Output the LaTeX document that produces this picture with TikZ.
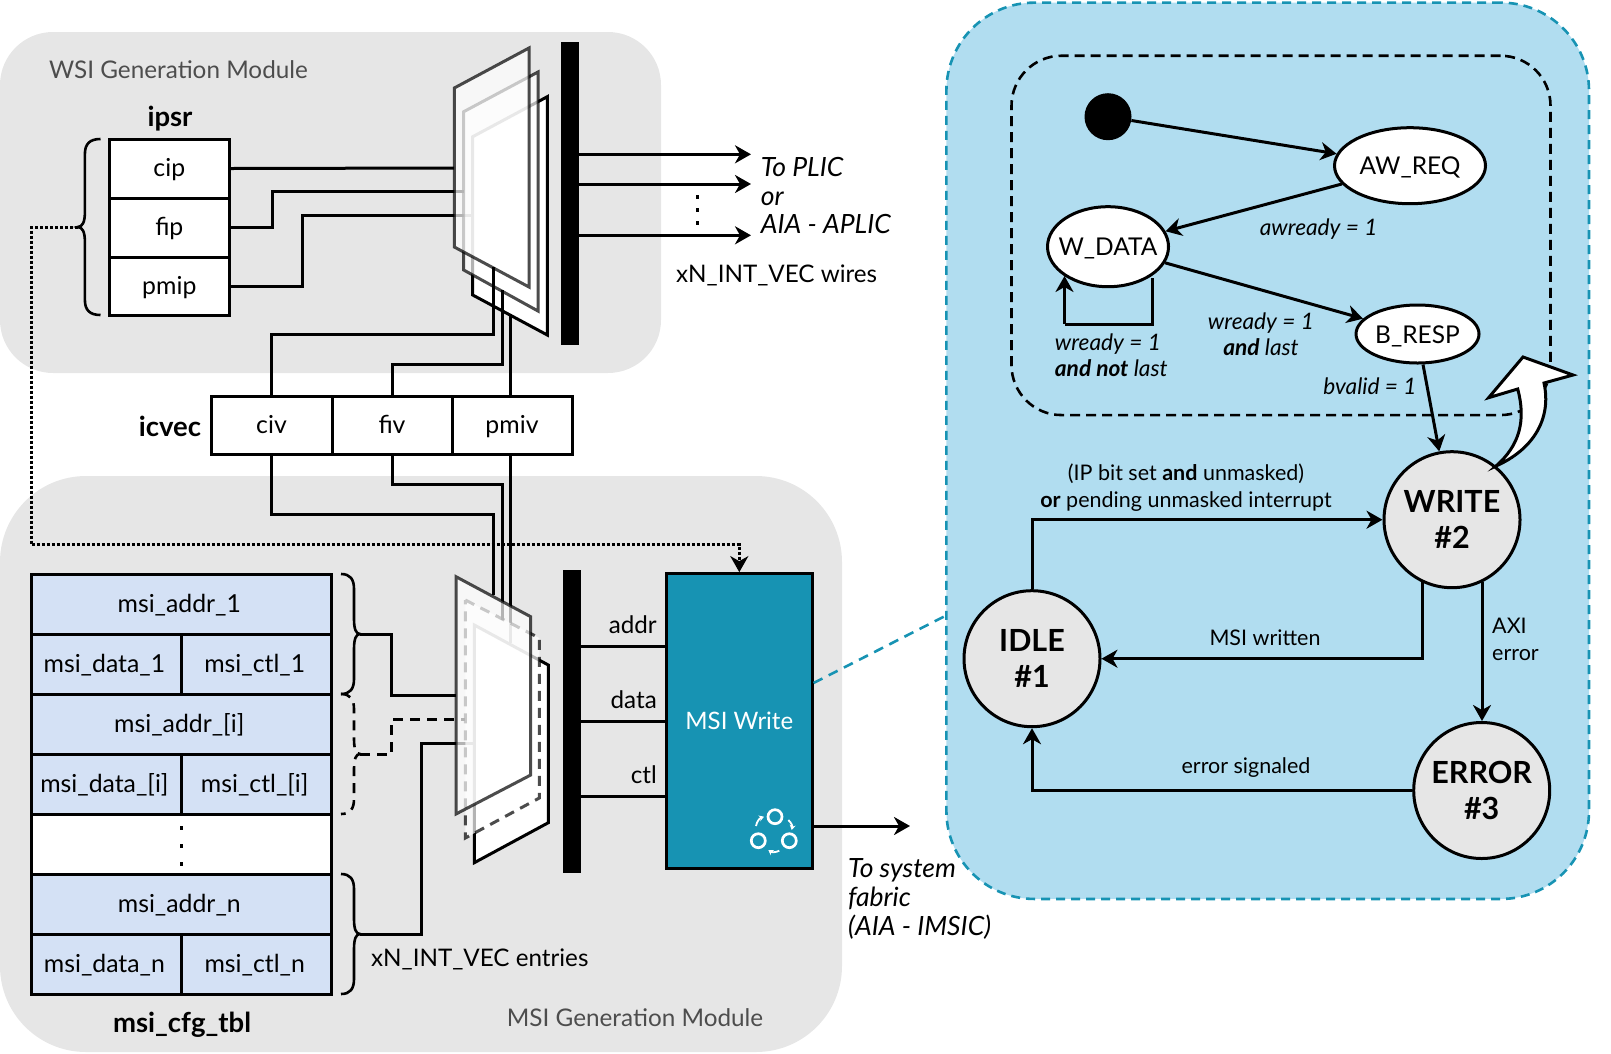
\documentclass[tikz,border=0pt]{standalone}
\usepackage{fontspec}
\setmainfont{Lato}
\usetikzlibrary{arrows.meta, shapes.geometric}
\definecolor{modulegray}{HTML}{E6E6E6}
\definecolor{paneblue}{HTML}{B1DDF0}
\definecolor{tealline}{HTML}{1793B3}
\definecolor{tableblue}{HTML}{D4E1F5}
\definecolor{titlegray}{HTML}{4D4D4D}
\tikzstyle{module} = [rectangle, fill=modulegray, inner sep=0pt]
\tikzstyle{cell} = [rectangle, draw=black, line width=3pt, fill=white, inner sep=0pt, text height=21pt, text depth=5pt, font=\fontsize{24.8}{28}\selectfont]
\tikzstyle{tablecell} = [cell, fill=tableblue, execute at begin node=\kern-4pt]
\tikzstyle{bar} = [rectangle, fill=black, inner sep=0pt, minimum width=18pt]
\tikzstyle{plane} = [draw=black, line width=3pt, fill=white, miter limit=10, opacity=0.7]
\tikzstyle{backplane} = [plane, opacity=1]
\tikzstyle{wire} = [line width=3pt, line join=miter]
\tikzstyle{arrow} = [wire, -{Stealth[length=16pt,width=18pt,inset=5pt]}]
\tikzstyle{curlyline} = [line width=2.6pt]
\tikzstyle{dotrow} = [line width=3.2pt]
\tikzstyle{state} = [ellipse, draw=black, line width=3pt, fill=white, inner sep=-15pt, font=\fontsize{24.5}{30}\selectfont]
\tikzstyle{smallstate} = [state, text height=18pt, text depth=0pt]
\tikzstyle{mainstate} = [state, fill=modulegray, minimum size=136pt, align=center, font=\fontsize{30.5}{36}\selectfont\bfseries]
\tikzstyle{textlabel} = [inner sep=0pt, font=\fontsize{24.2}{28}\selectfont]
\tikzstyle{boldlabel} = [textlabel, font=\fontsize{27.5}{32}\selectfont\bfseries]
\tikzstyle{title} = [textlabel, text=titlegray, font=\fontsize{24.3}{30}\selectfont]
\tikzstyle{slanted} = [textlabel, anchor=west, align=left, font=\fontsize{26.5}{28.7}\selectfont\itshape]
\tikzstyle{guard} = [textlabel, align=center, font=\fontsize{21.5}{27}\selectfont]
\tikzstyle{cond} = [guard, font=\fontsize{22.7}{26.5}\selectfont\itshape]
\tikzstyle{loopdot} = [circle, draw=white, line width=2.7pt, minimum size=14pt, inner sep=0pt]
\tikzstyle{looparrow} = [white, line width=1.8pt, -{Stealth[length=5pt,width=6pt]}]
\tikzset{curlybrace/.pic={
	\draw [curlyline] (0,-#1) .. controls (9,-#1) and (13,{-#1+5}) .. (13,{-#1+15}) -- (13,-15) .. controls (13,-5) and (15,0) .. (19,0) .. controls (15,0) and (13,5) .. (13,15) -- (13,{#1-15}) .. controls (13,{#1-5}) and (9,#1) .. (0,#1);
}}

\begin{document}
\begin{tikzpicture}[x=1pt,y=-1pt]
	\useasboundingbox (0,0) rectangle (1611,1053);

	% Modules
	\node (wsimodule) [module, minimum width=661pt, minimum height=341pt, rounded corners=53pt] at (330.5,202.5) {};
	\node (msimodule) [module, minimum width=842pt, minimum height=576pt, rounded corners=86pt] at (421,764) {};
	\node (fsmpanel) [rectangle, draw=tealline, fill=paneblue, line width=2.6pt, dash pattern=on 9pt off 6pt, inner sep=0pt, minimum width=642.6pt, minimum height=896.3pt, rounded corners=88pt] at (1267.7,450.8) {};
	\node (axiframe) [rectangle, draw=black, line width=2.6pt, dash pattern=on 10pt off 6pt, inner sep=0pt, minimum width=539pt, minimum height=359.3pt, rounded corners=50pt] at (1281,235.4) {};
	\node (wsititle) [title] at (178.5,70) {WSI Generation Module};
	\node (msititle) [title] at (635,1018) {MSI Generation Module};

	% Register nodes
	\node (ipsrlabel) [boldlabel] at (170,119) {ipsr};
	\node (cip) [cell, minimum width=120.6pt, minimum height=59pt] at (169.3,168.5) {cip};
	\node (fip) [cell, minimum width=120.6pt, minimum height=59pt] at (169.3,227.5) {fip};
	\node (pmip) [cell, minimum width=120.6pt, minimum height=58pt] at (169.3,286) {pmip};
	\node (icveclabel) [boldlabel] at (170,426) {icvec};
	\node (civ) [cell, minimum width=121pt, minimum height=58pt] at (271.5,425) {civ};
	\node (fiv) [cell, minimum width=120pt, minimum height=58pt] at (392,425) {fiv};
	\node (pmiv) [cell, minimum width=120pt, minimum height=58pt] at (512,425) {pmiv};

	% Table nodes
	\node (addrfirst) [tablecell, minimum width=300.6pt, minimum height=60pt] at (181.3,604) {msi\_addr\_1};
	\node (datafirst) [tablecell, minimum width=150.8pt, minimum height=60pt] at (106.4,664) {msi\_data\_1};
	\node (ctlfirst) [tablecell, minimum width=149.8pt, minimum height=60pt] at (256.7,664) {msi\_ctl\_1};
	\node (addrmid) [tablecell, minimum width=300.6pt, minimum height=60pt] at (181.3,724) {msi\_addr\_[i]};
	\node (datamid) [tablecell, minimum width=150.8pt, minimum height=60pt] at (106.4,784) {msi\_data\_[i]};
	\node (ctlmid) [tablecell, minimum width=149.8pt, minimum height=60pt] at (256.7,784) {msi\_ctl\_[i]};
	\node (tablegap) [cell, minimum width=300.6pt, minimum height=60pt] at (181.3,844) {};
	\node (addrlast) [tablecell, minimum width=300.6pt, minimum height=60pt] at (181.3,904) {msi\_addr\_n};
	\node (datalast) [tablecell, minimum width=150.8pt, minimum height=60pt] at (106.4,964) {msi\_data\_n};
	\node (ctllast) [tablecell, minimum width=149.8pt, minimum height=60pt] at (256.7,964) {msi\_ctl\_n};
	\node (tablelabel) [boldlabel] at (182,1025) {msi\_cfg\_tbl};

	% Bars and MSI block
	\node (wsibar) [bar, minimum height=303pt] at (570,193.5) {};
	\node (msibar) [bar, minimum height=303pt] at (571.7,721.3) {};
	\node (msiwrite) [rectangle, draw=black, line width=3pt, fill=tealline, text=white, inner sep=0pt, minimum width=145.5pt, minimum height=294.7pt, font=\fontsize{24}{30}\selectfont] at (739.3,721) {MSI Write};

	% Wire end points
	\coordinate (cipport) at (454,168);
	\coordinate (fipport) at (464,191.3);
	\coordinate (pmipport) at (473,215.5);
	\coordinate (civport) at (493.5,267);
	\coordinate (civturn) at (493.5,334);
	\coordinate (fivport) at (502.5,290);
	\coordinate (fivturn) at (502.5,364);
	\coordinate (pmivport) at (510.5,315);
	\coordinate (civlow) at (493.5,595);
	\coordinate (civlowturn) at (493.5,514);
	\coordinate (fivlow) at (502.5,620);
	\coordinate (fivlowturn) at (502.5,484.3);
	\coordinate (pmivlow) at (510.5,643);
	\coordinate (bracefirst) at (360,634);
	\coordinate (bracemid) at (360,754);
	\coordinate (bracelast) at (360,934);
	\coordinate (ipsrbrace) at (78,227);
	\coordinate (addrport) at (456,695);
	\coordinate (midport) at (465,719);
	\coordinate (lastport) at (474,743);
	\coordinate (dotturn) at (31.5,544.5);
	\coordinate (plicfirst) at (751,154.3);
	\coordinate (plicsecond) at (751,184);
	\coordinate (plicthird) at (751,235.3);
	\coordinate (addrwire) at (666,646);
	\coordinate (datawire) at (666,721);
	\coordinate (ctlwire) at (666,796);
	\coordinate (fabric) at (910,826);
	\coordinate (zoomfrom) at (812,683);
	\coordinate (zoomto) at (946,616);

	% Upper planes and their wires
	\draw [backplane] (472.7,136.7) -- (547.3,96.7) -- (547.3,335) -- (472.7,295) -- cycle;
	\draw [wire] (pmip.east) -- ++(71,0) |- (pmipport);
	\draw [wire] (pmiv.north -| pmivport) -- (pmivport);
	\draw [plane] (463.7,111.7) -- (538,72) -- (538,311) -- (463.7,270) -- cycle;
	\draw [wire] (fip.east) -- ++(41,0) |- (fipport);
	\draw [wire] (fiv.north) |- (fivturn) -- (fivport);
	\draw [plane] (454.3,88) -- (529,48) -- (529,287) -- (454.3,247) -- cycle;
	\draw [wire] (cip.east) -- (cipport);
	\draw [wire] (civ.north) |- (civturn) -- (civport);

	% Lower planes and their wires
	\draw [backplane] (474.3,625) -- (548.3,665) -- (548.3,822.7) -- (474.3,862.7) -- cycle;
	\draw [wire] (bracelast) -- ++(61.6,0) |- (lastport);
	\draw [wire] (pmiv.south -| pmivlow) -- (pmivlow);
	\draw [plane, dash pattern=on 10pt off 7pt] (465.3,600) -- (539.3,638) -- (539.3,798) -- (465.3,838) -- cycle;
	\draw [wire, dash pattern=on 10pt off 7pt] (bracemid) -- ++(31.6,0) |- (midport);
	\draw [wire] (fiv.south) |- (fivlowturn) -- (fivlow);
	\draw [plane] (456,576.7) -- (530.7,616.7) -- (530.7,775) -- (456,814) -- cycle;
	\draw [wire] (bracefirst) -- ++(31.6,0) |- (addrport);
	\draw [wire] (civ.south) |- (civlowturn) -- (civlow);

	% Braces
	\pic [xscale=-1.2] at (100.5,227) {curlybrace=88};
	\pic at (341,634) {curlybrace=60};
	\pic [dash pattern=on 10pt off 7pt] at (341,754) {curlybrace=60};
	\pic at (341,934) {curlybrace=60};

	% Arrows
	\draw [wire, dotted] (ipsrbrace) -| (dotturn);
	\draw [arrow, dotted] (dotturn) -| (msiwrite.north);
	\draw [arrow] (wsibar.east |- plicfirst) -- (plicfirst);
	\draw [arrow] (wsibar.east |- plicsecond) -- (plicsecond);
	\draw [arrow] (wsibar.east |- plicthird) -- (plicthird);
	\draw [wire] (msibar.east |- addrwire) -- (addrwire);
	\draw [wire] (msibar.east |- datawire) -- (datawire);
	\draw [wire] (msibar.east |- ctlwire) -- (ctlwire);
	\draw [arrow] (msiwrite.east |- fabric) -- (fabric);
	\draw [line width=2.6pt, tealline, dash pattern=on 10pt off 7pt] (msiwrite.east |- zoomfrom) -- (fsmpanel.west |- zoomto);
	\draw [dotrow, dash pattern=on 4pt off 9pt] (697.5,195) -- (697.5,225);
	\draw [dotrow, dash pattern=on 4pt off 14.2pt] (181.8,826) -- (181.8,868);

	% Labels
	\node (pliclabel) [slanted] at (760.6,195.5) {To PLIC\\or\\AIA - APLIC};
	\node (wireslabel) [textlabel, anchor=west] at (676,275) {xN\_INT\_VEC wires};
	\node (entrieslabel) [textlabel, anchor=west] at (371,959) {xN\_INT\_VEC entries};
	\node (fabriclabel) [slanted] at (848,899) {To system\\fabric\\(AIA - IMSIC)};
	\node (addrlabel) [textlabel, anchor=east] at (657,625) {addr};
	\node (datalabel) [textlabel, anchor=east] at (657,700) {data};
	\node (ctllabel) [textlabel, anchor=east] at (657,775) {ctl};

	% Loop icon
	\node (loopa) [loopdot] at (775,816.7) {};
	\node (loopb) [loopdot] at (758.3,840.7) {};
	\node (loopc) [loopdot] at (789.3,840.7) {};
	\draw [looparrow] (756,826) to [bend left=30] (764,816.7);
	\draw [looparrow] (788.3,820) to [bend left=30] (791.7,830);
	\draw [looparrow] (779.3,850.7) to [bend left=30] (768.3,850);

	% State nodes
	\node (start) [circle, fill=black, minimum size=47pt, inner sep=0pt] at (1108,116.7) {};
	\node (awreq) [smallstate, minimum width=151pt, minimum height=76pt] at (1410,165.7) {AW\_REQ};
	\node (wdata) [smallstate, minimum width=121pt, minimum height=80pt] at (1108,246.7) {W\_DATA};
	\node (bresp) [smallstate, minimum width=123pt, minimum height=58pt] at (1417.5,334) {B\_RESP};
	\node (write) [mainstate] at (1452,519.7) {WRITE\\\#2};
	\node (idle) [mainstate] at (1032,658.7) {IDLE\\\#1};
	\node (error) [mainstate] at (1481.7,790.5) {ERROR\\\#3};

	% White block arrow
	\draw [draw=black, fill=white, line width=3pt, miter limit=10] (1496,466) .. controls (1532,450) and (1552,420) .. (1544,383) -- (1573,375) -- (1523,357) -- (1488.6,397.7) -- (1517.7,389) .. controls (1526,420) and (1520,445) .. (1496,466) -- cycle;

	% State arrows
	\coordinate (loopout) at (1152,278);
	\coordinate (loopback) at (1064.5,324);
	\coordinate (writein) at (1423,365);
	\coordinate (writtenout) at (1422,581);
	\coordinate (axiout) at (1482,582);
	\draw [arrow] (start) -- (awreq);
	\draw [arrow] (awreq) -- (wdata);
	\draw [arrow] (wdata) -- (bresp);
	\draw [wire] (loopout) |- (loopback);
	\draw [arrow] (loopback) -- ++(0,-48);
	\draw [arrow] (bresp.south -| writein) -- (write);
	\draw [arrow] (idle.north) |- (write.west);
	\draw [arrow] (writtenout) |- (idle.east);
	\draw [arrow] (axiout) -- (error.north -| axiout);
	\draw [arrow] (error.west) -| (idle.south);

	% State labels
	\node (awlabel) [cond] at (1318.7,228.7) {awready = 1};
	\node (lastlabel) [cond] at (1261,334) {wready = 1\\\textbf{and} last};
	\node (notlastlabel) [cond, align=left, anchor=west] at (1054.7,355) {wready = 1\\\textbf{and not} last};
	\node (bvalidlabel) [cond] at (1370,386) {bvalid = 1};
	\node (startlabel) [guard] at (1186,487.5) {(IP bit set \textbf{and} unmasked)\\\textbf{or} pending unmasked interrupt};
	\node (writtenlabel) [guard] at (1265,638) {MSI written};
	\node (axilabel) [guard, align=left, anchor=west] at (1492,639.5) {AXI\\error};
	\node (signallabel) [guard] at (1246,768) {error signaled};
\end{tikzpicture}
\end{document}
